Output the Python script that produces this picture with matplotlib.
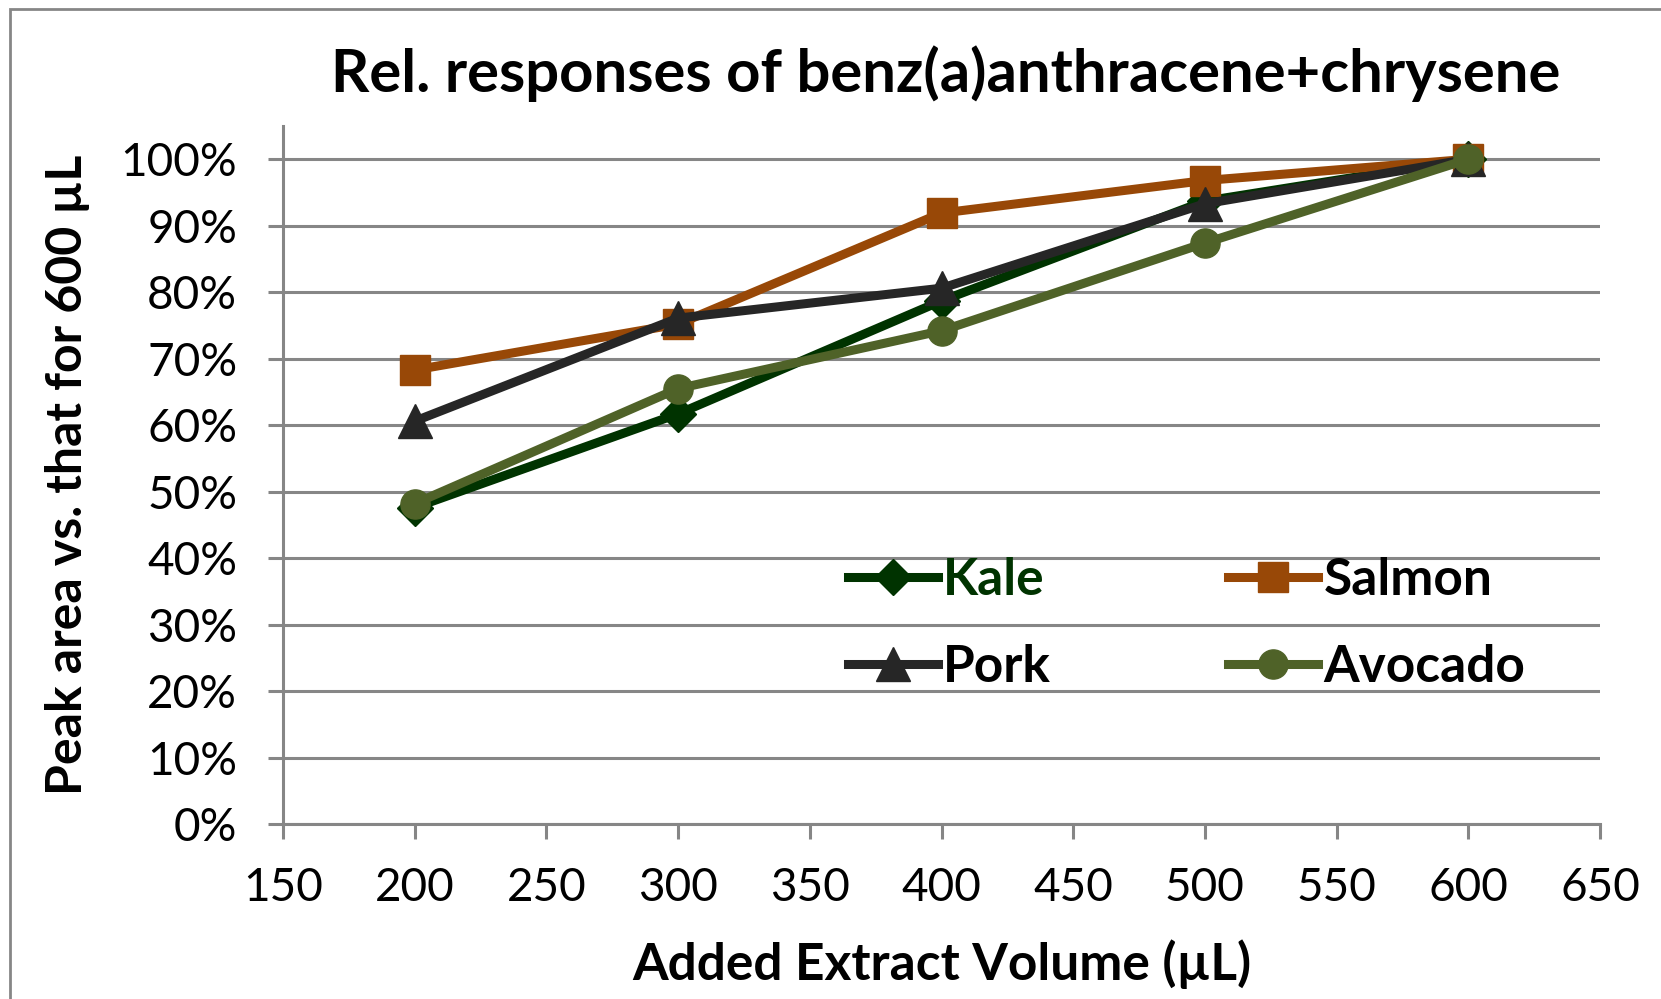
import matplotlib
matplotlib.use("Agg")
import matplotlib.pyplot as plt
from matplotlib.patches import Rectangle
from matplotlib.ticker import PercentFormatter

plt.rcParams['font.family'] = ['Lato', 'DejaVu Sans']

# data
volumes = [200, 300, 400, 500, 600]
kale = [0.476, 0.617, 0.787, 0.937, 1.0]
salmon = [0.683, 0.752, 0.919, 0.968, 1.0]
pork = [0.606, 0.761, 0.806, 0.933, 1.0]
avocado = [0.482, 0.655, 0.742, 0.874, 1.0]

W, H = 1661, 999
fig = plt.figure(figsize=(W / 100, H / 100), dpi=100)
ax = fig.add_axes([283 / W, 1 - 824 / H, (1600 - 283) / W, (824 - 126) / H])

grid_col = '#868686'

# outer chart border (only top and left visible)
fig.add_artist(Rectangle((10 / W, -0.5), 2, 1.5 - 9 / H, transform=fig.transFigure,
                         fill=False, edgecolor=grid_col, lw=2))

lw = 6.5
k, = ax.plot(volumes, kale, color='#003300', lw=lw, marker='D', ms=18, label='Kale')
s, = ax.plot(volumes, salmon, color='#984807', lw=lw, marker='s', ms=21, label='Salmon')
p, = ax.plot(volumes, pork, color='#262626', lw=lw, marker='^', ms=24, label='Pork')
a, = ax.plot(volumes, avocado, color='#4F6228', lw=lw, marker='o', ms=21, label='Avocado')

ax.set_xlim(150, 650)
ax.set_ylim(0, 1.05)
ax.set_xticks(range(150, 651, 50))
ax.set_yticks([i / 10 for i in range(11)])
ax.yaxis.set_major_formatter(PercentFormatter(1.0, decimals=0))

ax.grid(axis='y', color=grid_col, lw=2.2)
ax.set_axisbelow(True)
for side in ['top', 'right']:
    ax.spines[side].set_visible(False)
for side in ['left', 'bottom']:
    ax.spines[side].set_color(grid_col)
    ax.spines[side].set_linewidth(2.2)
ax.tick_params(colors=grid_col, width=2.2, length=11, labelcolor='black', labelsize=33)
ax.tick_params(axis='x', pad=20)
ax.tick_params(axis='y', pad=22)

ax.set_xlabel('Added Extract Volume (µL)', fontsize=37, fontweight='bold', labelpad=22)
ax.set_ylabel('Peak area vs. that for 600 µL', fontsize=36, fontweight='bold', labelpad=22)
fig.text(946 / W, 1 - 74 / H, 'Rel. responses of benz(a)anthracene+chrysene',
         ha='center', va='center', fontsize=43, fontweight='bold')

leg = ax.legend(handles=[k, p, s, a], ncol=2, frameon=False,
                prop={'weight': 'bold', 'size': 37},
                handlelength=1.75, handletextpad=0.1, columnspacing=3.45,
                labelspacing=0.78, loc='center left',
                bbox_to_anchor=((802 - 283) / (1600 - 283), (824 - 624) / (824 - 126)))
leg.get_texts()[0].set_color('#003300')

fig.savefig('out.png', dpi=100)
